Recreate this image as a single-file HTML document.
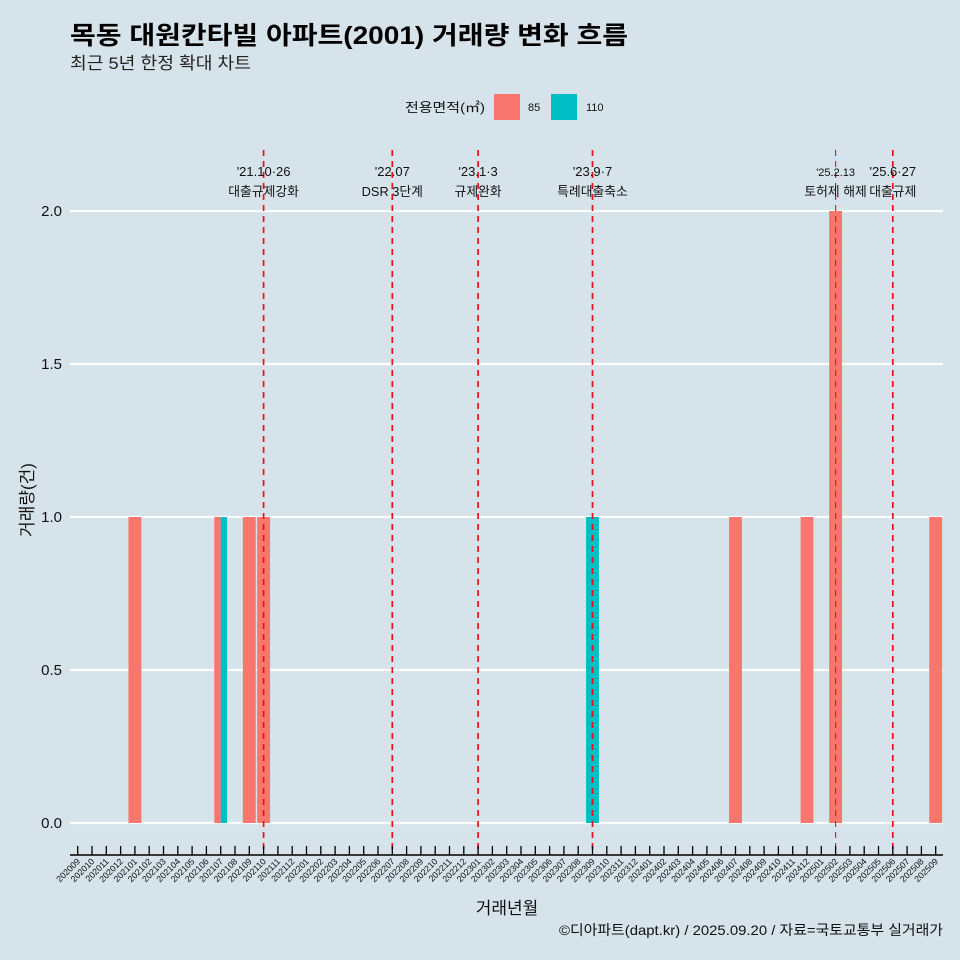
<!DOCTYPE html>
<html><head><meta charset="utf-8"><style>
body{margin:0;background:#d6e3ea;}
svg{display:block;font-family:"Liberation Sans","Noto Sans CJK KR",sans-serif;}
</style></head><body>
<svg id="c" width="960" height="960" viewBox="0 0 960 960">
<rect width="960" height="960" fill="#d6e3ea"/>
<text x="70" y="44" font-size="25" font-weight="bold" fill="#000" textLength="558" lengthAdjust="spacingAndGlyphs">목동 대원칸타빌 아파트(2001) 거래량 변화 흐름</text>
<text x="70" y="69" font-size="17" fill="#222" textLength="181" lengthAdjust="spacingAndGlyphs">최근 5년 한정 확대 차트</text>
<g>
<text x="405" y="112" font-size="13" fill="#111" textLength="80" lengthAdjust="spacingAndGlyphs">전용면적(㎡)</text>
<rect x="494" y="94" width="26" height="26" fill="#f8766d"/>
<text x="528" y="111" font-size="11" fill="#111">85</text>
<rect x="551" y="94" width="26" height="26" fill="#00bfc4"/>
<text x="586" y="111" font-size="11" fill="#111">110</text>
</g>
<g id="grid"></g><g id="bars"></g><g id="events"></g><g id="xaxis"></g>
<text transform="translate(33,500) rotate(-90)" text-anchor="middle" font-size="17" fill="#111">거래량(건)</text>
<text x="507" y="914" text-anchor="middle" font-size="17" fill="#111">거래년월</text>
<text x="943" y="935" text-anchor="end" font-size="14" fill="#111" textLength="384" lengthAdjust="spacingAndGlyphs">©디아파트(dapt.kr) / 2025.09.20 / 자료=국토교통부 실거래가</text>
</svg>
<script>
const months=[];for(let y=2020,m=9;!(y===2025&&m===10);){months.push(y+String(m).padStart(2,'0'));m++;if(m>12){m=1;y++;}}
const series85={"202101":1,"202107":1,"202109":1,"202110":1,"202407":1,"202412":1,"202502":2,"202509":1};
const series110={"202107":1,"202309":1};
const yTicks=[0,0.5,1,1.5,2];
const yTickLabels=["0.0","0.5","1.0","1.5","2.0"];
const eventMonths=["202110","202207","202301","202309","202502","202506"];
const eventLine1=["'21.10·26","'22.07","'23.1·3","'23.9·7","'25.2.13","'25.6·27"];
const eventLine2=["대출규제강화","DSR 3단계","규제완화","특례대출축소","토허제 해제","대출규제"];

const NS="http://www.w3.org/2000/svg";
const x0=77.7,step=14.3,yZero=823,yUnit=306;
const X=m=>x0+months.indexOf(m)*step;
const Y=v=>yZero-v*yUnit;
function el(t,a,p){const e=document.createElementNS(NS,t);for(const k in a)e.setAttribute(k,a[k]);p.appendChild(e);return e;}
const grid=document.getElementById('grid');
yTicks.forEach((v,i)=>{
 const l=el('line',{x1:70,x2:943,y1:Y(v),y2:Y(v),stroke:'#fff','stroke-width':2.2},grid);
 
 
 const t=el('text',{x:62,y:Y(v)+5,'text-anchor':'end','font-size':15,fill:'#111'},grid);
 t.textContent=yTickLabels[i];
 
 
});
const bars=document.getElementById('bars');
const W=step*0.9;
months.forEach(m=>{
 const a=series85[m]||0,b=series110[m]||0,cx=X(m);
 if(a&&b){
  const r1=el('rect',{x:cx-W/2,y:Y(a),width:W/2,height:a*yUnit,fill:'#f8766d'},bars);
  
  
  const r2=el('rect',{x:cx,y:Y(b),width:W/2,height:b*yUnit,fill:'#00bfc4'},bars);
  
  
 }else if(a||b){
  const v=a||b;
  const r=el('rect',{x:cx-W/2,y:Y(v),width:W,height:v*yUnit,fill:a?'#f8766d':'#00bfc4'},bars);
  
  
 }
});
const ev=document.getElementById('events');
eventMonths.forEach((m,i)=>{
 const x=X(m);
 const l=el('line',{x1:x,x2:x,y1:150,y2:852,stroke:'#e8101a','stroke-width':i===4?1.1:1.7,'stroke-dasharray':'6,5'},ev);
 
 
 const fs=i===4?11:13;
 const t1=el('text',{x:x,y:176,'text-anchor':'middle','font-size':fs,fill:'#111'},ev);
 t1.textContent=eventLine1[i];
 
 
 const t2=el('text',{x:x,y:196,'text-anchor':'middle','font-size':12.8,fill:'#111'},ev);
 t2.textContent=eventLine2[i];
 
 
});
const xa=document.getElementById('xaxis');
const ax=el('line',{x1:70,x2:943,y1:855,y2:855,stroke:'#000','stroke-width':1.5},xa);


months.forEach(m=>{
 const x=X(m);
 const tk=el('line',{x1:x,x2:x,y1:846,y2:855,stroke:'#000','stroke-width':1.3},xa);
 
 
 const t=el('text',{x:x+3,y:862,'text-anchor':'end','font-size':8.8,fill:'#111',transform:`rotate(-45 ${x+3} 862)`},xa);
 t.textContent=m;
 
 
});
</script>
</body></html>
